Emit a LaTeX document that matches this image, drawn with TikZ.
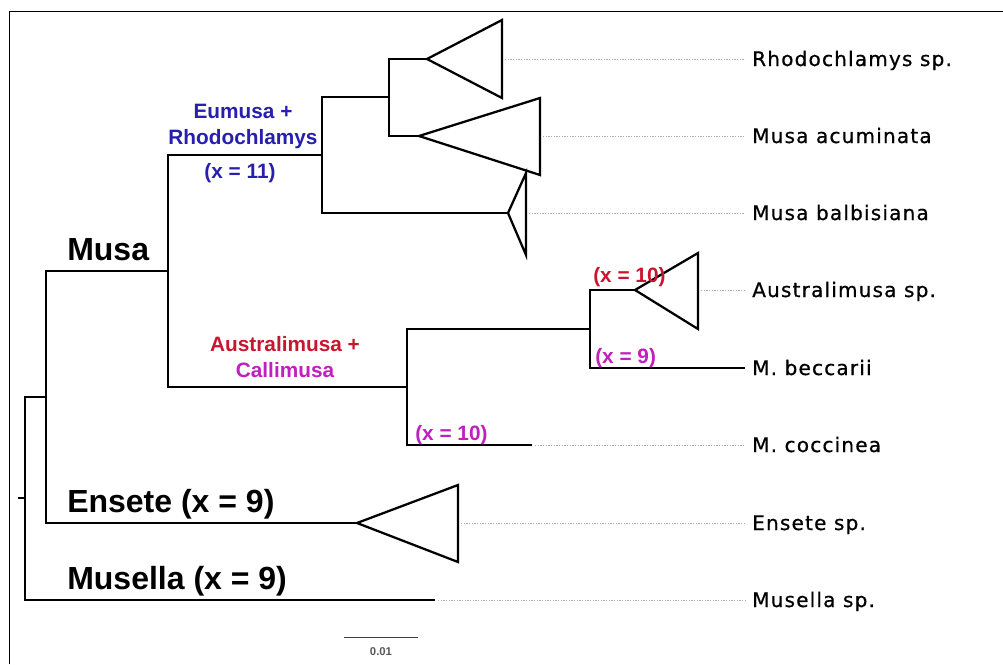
\documentclass[tikz,border=0pt]{standalone}
\usepackage{fontspec}
\setmainfont{Liberation Sans}
\newfontfamily\leaffont[LetterSpace=6,FakeBold=0.7]{DejaVu Sans}
\definecolor{cladeblue}{RGB}{40,32,172}
\definecolor{cladered}{RGB}{200,22,48}
\definecolor{clademag}{RGB}{192,32,190}
\definecolor{guide}{RGB}{175,175,175}

\begin{document}
\begin{tikzpicture}[x=0.75pt, y=-0.75pt,
  branch/.style={line width=1.7pt, black, line join=miter},
  collapsed/.style={line width=1.7pt, black, line join=miter, fill=white},
  guideline/.style={guide, line width=0.6pt, dash pattern=on 1.1pt off 0.9pt},
  leaf/.style={anchor=base west, inner sep=0pt, font=\leaffont\fontsize{15pt}{17pt}\selectfont},
  cladebig/.style={anchor=base west, inner sep=0pt, font=\bfseries\fontsize{24pt}{27pt}\selectfont},
  clade/.style={anchor=base, inner sep=0pt, font=\bfseries\fontsize{15.6pt}{18pt}\selectfont},
  chrom/.style={anchor=base west, inner sep=0pt, font=\bfseries\fontsize{15.6pt}{18pt}\selectfont}]

\useasboundingbox (0,0) rectangle (1003,664);
\fill[white] (0,0) rectangle (1003,664);

% frame edges
\draw[line width=0.9pt] (9.5,664) -- (9.5,11.5) -- (1003,11.5);

% internal nodes
\coordinate (stem) at (18,498);
\coordinate (root) at (25,498);
\coordinate (n1) at (46,397);
\coordinate (musa) at (168,271);
\coordinate (eu) at (322,155);
\coordinate (rhac) at (389,97);
\coordinate (aus) at (407,387);
\coordinate (ausbec) at (590,329);

% branch ends / collapsed clade apices
\coordinate (rhoA) at (427,59);
\coordinate (acuA) at (419,136);
\coordinate (balA) at (508,213);
\coordinate (ausA) at (635,290);
\coordinate (becE) at (745,368);
\coordinate (cocE) at (532,445);
\coordinate (ensA) at (357,523);
\coordinate (musE) at (435,600);

% ends of the guide lines at the leaf labels
\coordinate (g1) at (745,59);
\coordinate (g2) at (745,136);
\coordinate (g3) at (745,213);
\coordinate (g4) at (745,290);
\coordinate (g6) at (745,445);
\coordinate (g7) at (745,523);
\coordinate (g8) at (745,600);

% branches
\draw[branch] (stem) -- (root);
\draw[branch] (root) |- (n1);
\draw[branch] (root) |- (musE);
\draw[branch] (n1) |- (musa);
\draw[branch] (n1) |- (ensA);
\draw[branch] (musa) |- (eu);
\draw[branch] (musa) |- (aus);
\draw[branch] (eu) |- (rhac);
\draw[branch] (eu) |- (balA);
\draw[branch] (rhac) |- (rhoA);
\draw[branch] (rhac) |- (acuA);
\draw[branch] (aus) |- (ausbec);
\draw[branch] (aus) |- (cocE);
\draw[branch] (ausbec) |- (ausA);
\draw[branch] (ausbec) |- (becE);

% collapsed clades
\draw[collapsed] (rhoA) -- (502,20) -- (502,98) -- cycle;
\draw[collapsed] (acuA) -- (540,98) -- (540,175) -- cycle;
\draw[collapsed] (balA) -- (526,173) -- (526,255) -- cycle;
\draw[collapsed] (ausA) -- (698,253) -- (698,329) -- cycle;
\draw[collapsed] (ensA) -- (458,485) -- (458,562) -- cycle;

% guide lines
\draw[guideline] (505,59) -- (g1);
\draw[guideline] (543,136) -- (g2);
\draw[guideline] (529,213) -- (g3);
\draw[guideline] (701,290) -- (g4);
\draw[guideline] (cocE) ++(3,0) -- (g6);
\draw[guideline] (461,523) -- (g7);
\draw[guideline] (musE) ++(3,0) -- (g8);

% leaf labels
\node[leaf] (l1) at (752,66) {Rhodochlamys sp.};
\node[leaf] (l2) at (752,143) {Musa acuminata};
\node[leaf] (l3) at (752,220) {Musa balbisiana};
\node[leaf] (l4) at (752,297) {Australimusa sp.};
\node[leaf] (l5) at (752,375) {M. beccarii};
\node[leaf] (l6) at (752,452) {M. coccinea};
\node[leaf] (l7) at (752,530) {Ensete sp.};
\node[leaf] (l8) at (752,607) {Musella sp.};

% genus labels
\node[cladebig] (tMusa) at (67,260) {Musa};
\node[cladebig] (tEns) at (67,512) {Ensete (x = 9)};
\node[cladebig] (tMsl) at (67,589) {Musella (x = 9)};

% section labels
\node[clade, text=cladeblue] (tEu1) at (243,118) {Eumusa +};
\node[clade, text=cladeblue] (tEu2) at (243,144) {Rhodochlamys};
\node[clade, text=cladeblue] (tEu3) at (240,178) {(x = 11)};
\node[clade, text=cladered] (tAu1) at (285,351) {Australimusa +};
\node[clade, text=clademag] (tAu2) at (285,377) {Callimusa};
\node[chrom, text=cladered] (tX10a) at (593,282) {(x = 10)};
\node[chrom, text=clademag] (tX9) at (595,363) {(x = 9)};
\node[chrom, text=clademag] (tX10b) at (415,440) {(x = 10)};

% scale bar
\coordinate (sbL) at (344,637.5);
\coordinate (sbR) at (418,637.5);
\draw[line width=1.1pt, black!75] (sbL) -- (sbR);
\node[anchor=base, inner sep=0pt, text=black!65, font=\bfseries\fontsize{8.5pt}{9pt}\selectfont] (sbT) at (381,655) {0.01};
\end{tikzpicture}
\end{document}
